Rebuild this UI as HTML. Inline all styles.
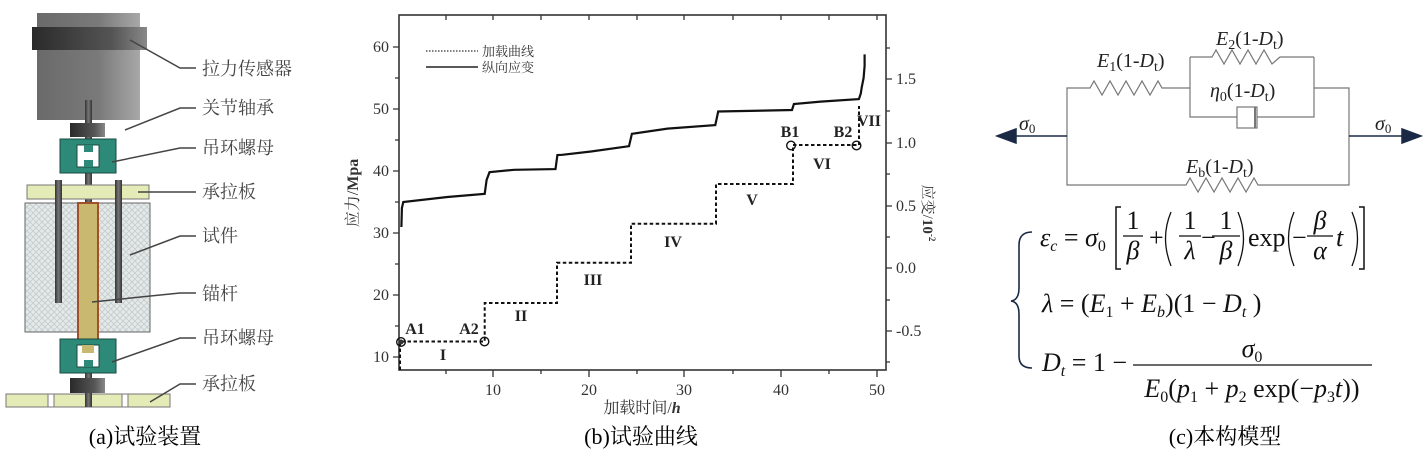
<!DOCTYPE html>
<html><head><meta charset="utf-8"><style>
html,body{margin:0;padding:0;background:#fff;}
svg{display:block;}
.cn{font-family:"Liberation Serif","Noto Serif CJK SC",serif;}
.sr{font-family:"Liberation Serif","Noto Serif CJK SC",serif;}
</style></head><body>
<svg width="1424" height="452" viewBox="0 0 1424 452" xmlns="http://www.w3.org/2000/svg">
<defs>
<linearGradient id="gs" x1="0" x2="1"><stop offset="0" stop-color="#6a6a6a"/><stop offset="0.6" stop-color="#7a7a7a"/><stop offset="1" stop-color="#a8a8a8"/></linearGradient>
<linearGradient id="gb" x1="0" x2="1"><stop offset="0" stop-color="#2a2a2a"/><stop offset="0.7" stop-color="#555"/><stop offset="1" stop-color="#888"/></linearGradient>
<linearGradient id="gr" x1="0" x2="1"><stop offset="0" stop-color="#333"/><stop offset="0.5" stop-color="#777"/><stop offset="1" stop-color="#333"/></linearGradient>
<pattern id="hatch" width="6" height="6" patternUnits="userSpaceOnUse"><rect width="6" height="6" fill="#e4e9e9"/><path d="M0 0L6 6M6 0L0 6" stroke="#c5cccc" stroke-width="0.8"/></pattern>
</defs>

<!-- ===== (a) apparatus ===== -->
<rect x="37" y="13" width="103" height="107" fill="url(#gs)"/>
<rect x="32" y="27" width="115" height="23" fill="url(#gb)"/>
<rect x="85" y="100" width="7" height="300" fill="url(#gr)"/>
<rect x="70" y="123" width="35" height="14" fill="url(#gb)"/>
<!-- upper nut -->
<rect x="60" y="139" width="56" height="34" fill="#2e8a78" stroke="#1a4a40" stroke-width="1"/>
<rect x="77" y="145" width="22" height="22" fill="#fff" stroke="#1a4a40"/>
<rect x="84" y="145" width="9" height="7" fill="#2e8a78"/>
<rect x="84" y="160" width="9" height="7" fill="#2e8a78"/>
<rect x="27" y="185" width="122" height="14" fill="#e4ebb6" stroke="#777"/>
<!-- specimen -->
<rect x="25" y="203" width="125" height="129" fill="url(#hatch)" stroke="#666"/>
<rect x="55" y="180" width="7" height="123" fill="url(#gr)"/>
<rect x="115" y="180" width="7" height="123" fill="url(#gr)"/>
<rect x="78" y="203" width="20" height="137" fill="#c8b870" stroke="#a0502a" stroke-width="2"/>
<!-- lower nut -->
<rect x="60" y="339" width="56" height="34" fill="#2e8a78" stroke="#1a4a40"/>
<rect x="77" y="345" width="22" height="22" fill="#fff" stroke="#1a4a40"/>
<rect x="82" y="345" width="12" height="8" fill="#c8b870"/>
<rect x="84" y="360" width="9" height="7" fill="#2e8a78"/>
<rect x="70" y="378" width="35" height="15" fill="url(#gb)"/>
<rect x="6" y="394" width="164" height="13" fill="#e4ebb6" stroke="#777"/>
<rect x="48" y="394" width="6" height="13" fill="#fff" stroke="#777"/>
<rect x="122" y="394" width="6" height="13" fill="#fff" stroke="#777"/>
<rect x="85" y="393" width="7" height="14" fill="url(#gr)"/>
<g stroke="#444" stroke-width="1.5" fill="none">
<path d="M130 40 L180 68 L196 68"/>
<path d="M125 130 L180 108 L196 108"/>
<path d="M112 162 L180 148 L196 148"/>
<path d="M138 192 L196 192"/>
<path d="M130 255 L180 236 L196 236"/>
<path d="M92 302 L180 293 L196 293"/>
<path d="M112 362 L180 338 L196 338"/>
<path d="M150 402 L180 384 L196 384"/>
</g>
<g class="cn" font-size="18" fill="#444">
<text x="202" y="75">拉力传感器</text>
<text x="202" y="114">关节轴承</text>
<text x="202" y="154">吊环螺母</text>
<text x="202" y="198">承拉板</text>
<text x="202" y="242">试件</text>
<text x="202" y="300">锚杆</text>
<text x="202" y="344">吊环螺母</text>
<text x="202" y="390">承拉板</text>
</g>
<text class="cn" x="145" y="444" font-size="22" text-anchor="middle">(a)试验装置</text>

<!-- ===== (b) chart ===== -->
<g stroke="#333" stroke-width="1.6" fill="none">
<rect x="399" y="15" width="487" height="355"/>
</g>
<g stroke="#333" stroke-width="1.3">
<path d="M393 357H399M393 295H399M393 233H399M393 171H399M393 109H399M393 47H399"/>
<path d="M395 326H399M395 264H399M395 202H399M395 140H399M395 78H399"/>
<path d="M493 370V377M589 370V377M684 370V377M781 370V377M877 370V377"/>
<path d="M446 370V374M541 370V374M637 370V374M733 370V374M829 370V374"/>
<path d="M446 15V20M493 15V20M541 15V20M589 15V20M637 15V20M684 15V20M733 15V20M781 15V20M829 15V20M877 15V20"/>
<path d="M886 79H892M886 143H892M886 206H892M886 268H892M886 331H892"/>
<path d="M886 48H890M886 111H890M886 174H890M886 237H890M886 300H890M886 362H890"/>
</g>
<g class="sr" font-size="16" fill="#333">
<g text-anchor="end">
<text x="389" y="362">10</text><text x="389" y="300">20</text><text x="389" y="238">30</text>
<text x="389" y="176">40</text><text x="389" y="114">50</text><text x="389" y="52">60</text>
</g>
<g text-anchor="middle">
<text x="493" y="395">10</text><text x="589" y="395">20</text><text x="684" y="395">30</text>
<text x="781" y="395">40</text><text x="877" y="395">50</text>
</g>
<text x="896" y="84">1.5</text><text x="896" y="148">1.0</text><text x="896" y="211">0.5</text>
<text x="896" y="273">0.0</text><text x="896" y="336">-0.5</text>
</g>
<text class="cn" x="642" y="413" font-size="16" text-anchor="middle" fill="#333">加载时间/<tspan font-weight="bold" font-style="italic">h</tspan></text>
<text class="cn" transform="translate(358,193) rotate(-90)" font-size="16" text-anchor="middle" fill="#333">应力/<tspan font-weight="bold">Mpa</tspan></text>
<text class="cn" transform="translate(923,213) rotate(90)" font-size="15" text-anchor="middle" fill="#333">应变/<tspan font-weight="bold">10<tspan font-size="9" dy="-6">-2</tspan></tspan></text>
<path d="M426 51H478" stroke="#333" stroke-width="1.2" stroke-dasharray="1.5,1.5"/>
<path d="M426 67H478" stroke="#222" stroke-width="1.4"/>
<text class="cn" x="482" y="56" font-size="13" fill="#333">加载曲线</text>
<text class="cn" x="482" y="72" font-size="13" fill="#333">纵向应变</text>
<path d="M400 370 V341.5 H484.7 V303 H557 V262.8 H631 V223.7 H716 V184 H793 V145 H859 V106" fill="none" stroke="#111" stroke-width="2" stroke-dasharray="3.5,2.5"/>
<path d="M401.4 227 L401.9 208 L403.3 202 L447.4 197 L484.7 193.9 L486.6 180 L489.5 172.2 L514 169.8 L555.5 169.1 L557.4 155 L562.2 154.8 L591 151.5 L629 146.2 L631.9 133.8 L667.5 128.6 L715.3 125.1 L718.2 111.5 L792 110 L793.9 104 L820.6 101.6 L858.9 99.1 L860.8 93.5 L861.7 87.5 L863.6 78 L864.6 66 L864.6 54.4" fill="none" stroke="#111" stroke-width="2.2"/>
<g fill="none" stroke="#111" stroke-width="1.4">
<circle cx="401" cy="342" r="4.3"/><circle cx="484.5" cy="341.5" r="4.3"/>
<circle cx="791" cy="145.5" r="4.3"/><circle cx="856.5" cy="145.5" r="4.3"/>
</g>
<circle cx="401" cy="342" r="2.5" fill="#333"/>
<g class="sr" font-size="16" font-weight="bold" fill="#222" text-anchor="middle">
<text x="415" y="334">A1</text><text x="469" y="334">A2</text>
<text x="790" y="137">B1</text><text x="843" y="137">B2</text>
<text x="443" y="360">I</text><text x="521" y="321">II</text>
<text x="593" y="285">III</text><text x="673" y="247">IV</text>
<text x="752" y="205">V</text><text x="822" y="169">VI</text><text x="869" y="126">VII</text>
</g>
<text class="cn" x="641" y="444" font-size="22" text-anchor="middle">(b)试验曲线</text>

<!-- ===== (c) model ===== -->
<g fill="none" stroke="#777" stroke-width="1.2">
<path d="M1067 136 V88 H1090 l4 -7 l8 14 l8 -14 l8 14 l8 -14 l8 14 l8 -14 l8 14 l8 -14 l4 7 H1190"/>
<path d="M1190 57 V117 H1237 M1257 117 H1314 V57"/>
<path d="M1190 57 H1212 l4 -7 l8 14 l8 -14 l8 14 l8 -14 l8 14 l8 -14 l8 14 l8 -7 H1314"/>
<path d="M1314 88 H1349 V185 H1258 l-4 -7 l-8 14 l-8 -14 l-8 14 l-8 -14 l-8 14 l-8 -14 l-8 14 l-8 -14 l-4 7 H1067 V136"/>
<rect x="1237" y="107" width="20" height="21"/>
<path d="M1255 107 V128" stroke-width="2"/>
</g>
<g stroke="#1a2a44" stroke-width="1.5" fill="#1a2a44">
<path d="M1067 136 H1010"/><path d="M997 136 L1016 129 L1016 143 Z"/>
<path d="M1349 136 H1408"/><path d="M1421 136 L1402 129 L1402 143 Z"/>
</g>
<g class="sr" font-size="20" fill="#222">
<text x="1019" y="130" font-style="italic">σ<tspan font-size="13" font-style="normal" dy="3">0</tspan></text>
<text x="1375" y="130" font-style="italic">σ<tspan font-size="13" font-style="normal" dy="3">0</tspan></text>
<text x="1097" y="67"><tspan font-style="italic">E</tspan><tspan font-size="14" dy="4">1</tspan><tspan dy="-4">(1-</tspan><tspan font-style="italic">D</tspan><tspan font-size="14" dy="4">t</tspan><tspan dy="-4">)</tspan></text>
<text x="1216" y="45"><tspan font-style="italic">E</tspan><tspan font-size="14" dy="4">2</tspan><tspan dy="-4">(1-</tspan><tspan font-style="italic">D</tspan><tspan font-size="14" dy="4">t</tspan><tspan dy="-4">)</tspan></text>
<text x="1210" y="97"><tspan font-style="italic">η</tspan><tspan font-size="14" dy="4">0</tspan><tspan dy="-4">(1-</tspan><tspan font-style="italic">D</tspan><tspan font-size="14" dy="4">t</tspan><tspan dy="-4">)</tspan></text>
<text x="1186" y="173"><tspan font-style="italic">E</tspan><tspan font-size="14" dy="4">b</tspan><tspan dy="-4">(1-</tspan><tspan font-style="italic">D</tspan><tspan font-size="14" dy="4">t</tspan><tspan dy="-4">)</tspan></text>
</g>
<path d="M1032 232 Q1019 232 1019 245 L1019 288 Q1019 300 1011 301 Q1019 302 1019 314 L1019 356 Q1019 368 1032 368" fill="none" stroke="#1a2a44" stroke-width="1.6"/>
<g class="sr" font-size="26" fill="#111">
<text x="1040" y="246"><tspan font-style="italic">ε</tspan><tspan font-size="16" font-style="italic" dy="5">c</tspan><tspan dy="-5"> = </tspan><tspan font-style="italic">σ</tspan><tspan font-size="16" dy="5">0</tspan></text>
<path d="M1121 207 H1116 V269 H1121 M1359 207 H1364 V269 H1359" fill="none" stroke="#111" stroke-width="1.5"/>
<text x="1133" y="229" text-anchor="middle">1</text>
<path d="M1123 236 H1143 M1179 236 H1201 M1212 236 H1240 M1307 236 H1333" stroke="#111" stroke-width="1.3"/>
<text x="1133" y="259" text-anchor="middle" font-style="italic">β</text>
<text x="1149" y="246">+</text>
<path d="M1171 212 Q1160 238 1171 266 M1238 212 Q1249 238 1238 266 M1294 212 Q1283 238 1294 266 M1352 212 Q1363 238 1352 266" fill="none" stroke="#111" stroke-width="1.3"/>
<text x="1190" y="229" text-anchor="middle">1</text>
<text x="1190" y="259" text-anchor="middle" font-style="italic">λ</text>
<text x="1201" y="246">−</text>
<text x="1226" y="229" text-anchor="middle">1</text>
<text x="1226" y="259" text-anchor="middle" font-style="italic">β</text>
<text x="1248" y="246">exp</text>
<text x="1292" y="246">−</text>
<text x="1320" y="229" text-anchor="middle" font-style="italic">β</text>
<text x="1320" y="259" text-anchor="middle" font-style="italic">α</text>
<text x="1336" y="246" font-style="italic">t</text>
<text x="1042" y="312"><tspan font-style="italic">λ</tspan> = (<tspan font-style="italic">E</tspan><tspan font-size="16" dy="5">1</tspan><tspan dy="-5"> + </tspan><tspan font-style="italic">E</tspan><tspan font-size="16" font-style="italic" dy="5">b</tspan><tspan dy="-5">)(1 − </tspan><tspan font-style="italic">D</tspan><tspan font-size="16" font-style="italic" dy="5">t</tspan><tspan dy="-5"> )</tspan></text>
<text x="1042" y="371"><tspan font-style="italic">D</tspan><tspan font-size="16" font-style="italic" dy="5">t</tspan><tspan dy="-5"> = 1 −</tspan></text>
<path d="M1133 365 H1372" stroke="#111" stroke-width="1.3"/>
<text x="1252" y="357" text-anchor="middle"><tspan font-style="italic">σ</tspan><tspan font-size="16" dy="5">0</tspan></text>
<text x="1252" y="397" text-anchor="middle"><tspan font-style="italic">E</tspan><tspan font-size="16" dy="5">0</tspan><tspan dy="-5">(</tspan><tspan font-style="italic">p</tspan><tspan font-size="16" dy="5">1</tspan><tspan dy="-5"> + </tspan><tspan font-style="italic">p</tspan><tspan font-size="16" dy="5">2</tspan><tspan dy="-5"> exp(−</tspan><tspan font-style="italic">p</tspan><tspan font-size="16" dy="5">3</tspan><tspan dy="-5" font-style="italic">t</tspan><tspan>))</tspan></text>
</g>
<text class="cn" x="1225" y="444" font-size="22" text-anchor="middle">(c)本构模型</text>
</svg>
</body></html>
